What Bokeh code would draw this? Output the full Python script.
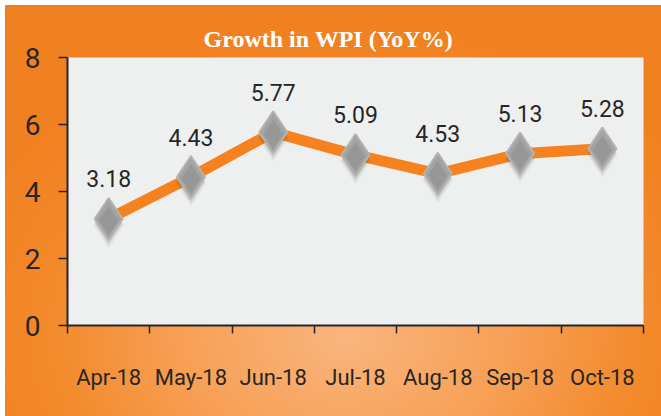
from bokeh.plotting import figure
from bokeh.models import ColumnDataSource, Range1d, FixedTicker, Title
from bokeh.core.properties import value
from bokeh.transform import dodge
from bokeh.embed import file_html
from bokeh.resources import INLINE

months = ["Apr-18", "May-18", "Jun-18", "Jul-18", "Aug-18", "Sep-18", "Oct-18"]
wpi = [3.18, 4.43, 5.77, 5.09, 4.53, 5.13, 5.28]
y_ticks = [0, 2, 4, 6, 8]
title_text = "Growth in WPI (YoY%)"

n = len(months)
x_pos = [i + 0.5 for i in range(n)]
labels = [f"{v:.2f}" for v in wpi]
source = ColumnDataSource(dict(x=x_pos, y=wpi, label=labels))

SANS = "Roboto"
DARK = "#262626"

p = figure(width=656, height=411, x_range=Range1d(0, n), y_range=Range1d(y_ticks[0], y_ticks[-1]),
           output_backend="svg", toolbar_location=None,
           min_border_left=62, min_border_right=18, min_border_top=52, min_border_bottom=91,
           background_fill_color="#eef0f0", border_fill_color=None, outline_line_color=None)
p.styles = {"background": "radial-gradient(ellipse 62% 75% at 52% 80%, #f9b57e 0%, #f7a056 40%, #f38a2c 72%, #f18020 100%)",
            "margin-left": "5px", "margin-top": "5px"}
p.grid.visible = False

t = Title(text=title_text, align="left", text_color="white", text_font="Liberation Serif",
          text_font_style="bold", text_font_size="24px", offset=136, standoff=12)
p.add_layout(t, "above")

xa = p.xaxis[0]
xa.ticker = FixedTicker(ticks=x_pos, minor_ticks=list(range(n + 1)))
xa.major_label_overrides = {x: m for x, m in zip(x_pos, months)}
xa.major_tick_line_color = None
xa.major_tick_out = 8
xa.major_tick_in = 0
xa.minor_tick_out = 8
xa.minor_tick_in = 0
xa.minor_tick_line_color = DARK
xa.minor_tick_line_width = 1.5
xa.axis_line_color = DARK
xa.axis_line_width = 2
xa.major_label_text_font = SANS
xa.major_label_text_font_size = "22px"
xa.major_label_text_color = DARK
xa.major_label_standoff = 31

ya = p.yaxis[0]
ya.ticker = FixedTicker(ticks=y_ticks, minor_ticks=[])
ya.major_tick_out = 9
ya.major_tick_in = 0
ya.major_tick_line_color = DARK
ya.major_tick_line_width = 1.5
ya.axis_line_color = DARK
ya.axis_line_width = 2
ya.major_label_text_font = SANS
ya.major_label_text_font_size = "28px"
ya.major_label_text_color = DARK
ya.major_label_standoff = 18

p.line("x", "y", source=source, line_width=11, line_color="#f5821f")

# soft shadow
p.scatter(x="x", y=dodge("y", -0.18, range=p.y_range), source=source, marker="diamond", size=45,
          fill_color="black", fill_alpha=0.07, line_color=None)
p.scatter(x="x", y=dodge("y", -0.13, range=p.y_range), source=source, marker="diamond", size=41,
          fill_color="black", fill_alpha=0.10, line_color=None)
# diamond markers
p.scatter("x", "y", source=source, marker="diamond", size=42,
          fill_color="#a3a3a3", line_color="#b3b3b3", line_width=2)
p.scatter(x="x", y=dodge("y", -0.05, range=p.y_range), source=source, marker="diamond", size=29,
          fill_color="#979797", line_color=None)

p.text("x", "y", text="label", source=source, text_align="center", text_baseline="middle",
       y_offset=-40, text_font=value(SANS), text_font_size="23px", text_color=DARK)

open("out.html", "w").write(file_html(p, INLINE))
